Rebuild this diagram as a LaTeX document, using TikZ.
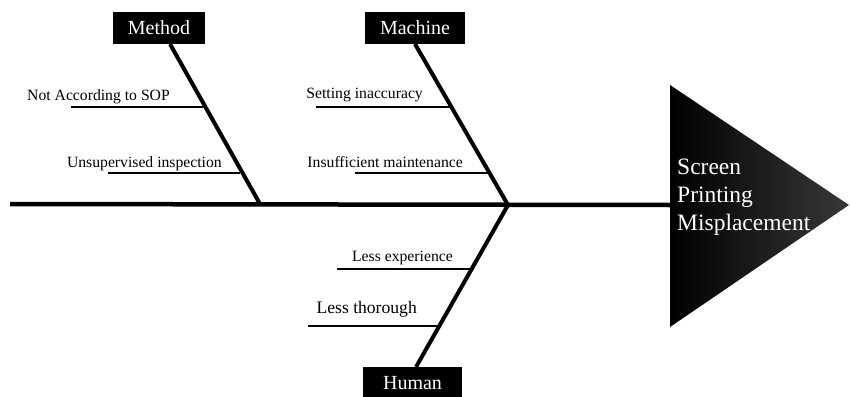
\documentclass[tikz,border=0pt]{standalone}
\usepackage{fontspec}
\setmainfont{Liberation Serif}
\begin{document}
\begin{tikzpicture}[x=1pt,y=-1pt,
  catbox/.style={fill=black,text=white,minimum width=94pt,minimum height=32pt,inner sep=0pt,font=\fontsize{20}{22}\selectfont},
  bone/.style={line width=4pt},
  spine/.style={line width=4.5pt},
  sub/.style={line width=2.4pt},
  lab/.style={inner sep=0pt,anchor=base east,font=\fontsize{15.7}{17}\selectfont}]
\useasboundingbox (0,0) rectangle (850,396);
% head
\shade[left color=black,right color=black!78] (670,85) -- (849,205) -- (670,327) -- cycle;
\coordinate (head) at (670,205);
\node[anchor=west,align=left,text=white,inner sep=0pt,font=\fontsize{23.5}{28}\selectfont] (effect) at (677,197) {Screen\\Printing\\Misplacement};
% spine
\coordinate (tail) at (10,204);
\coordinate (j1) at (260,204);
\coordinate (j2) at (508,205);
\draw[spine] (tail) -- (head);
% category boxes
\node[catbox,minimum width=92pt] (method) at (159,28) {Method};
\node[catbox,minimum width=100pt] (machine) at (415,28) {Machine};
\node[catbox,minimum width=99pt] (human) at (412.5,383) {Human};
% bones
\coordinate (m0) at (170,44);
\coordinate (k0) at (415,44);
\coordinate (h0) at (416,367);
\draw[bone] (m0) -- (j1);
\draw[bone] (k0) -- (j2);
\draw[bone] (h0) -- (j2);
% sub bones Method
\coordinate (a1) at (71,107); \coordinate (a2) at (203,107);
\coordinate (b1) at (108,173); \coordinate (b2) at (240,173);
\draw[sub] (a1) -- (a2);
\draw[sub] (b1) -- (b2);
\node[lab] (t1) at (170,100) {Not According to SOP};
\node[lab] (t2) at (222,167) {Unsupervised inspection};
% sub bones Machine
\coordinate (c1) at (316,107); \coordinate (c2) at (451,107);
\coordinate (d1) at (355,173); \coordinate (d2) at (489,173);
\draw[sub] (c1) -- (c2);
\draw[sub] (d1) -- (d2);
\node[lab] (t3) at (423,98) {Setting inaccuracy};
\node[lab] (t4) at (463,167) {Insufficient maintenance};
% sub bones Human
\coordinate (e1) at (337,269); \coordinate (e2) at (472,269);
\coordinate (f1) at (308,326); \coordinate (f2) at (439,326);
\draw[sub] (e1) -- (e2);
\draw[sub] (f1) -- (f2);
\node[lab] (t5) at (453,261) {Less experience};
\node[lab,font=\fontsize{17.6}{19}\selectfont] (t6) at (417,313) {Less thorough};
\end{tikzpicture}
\end{document}
